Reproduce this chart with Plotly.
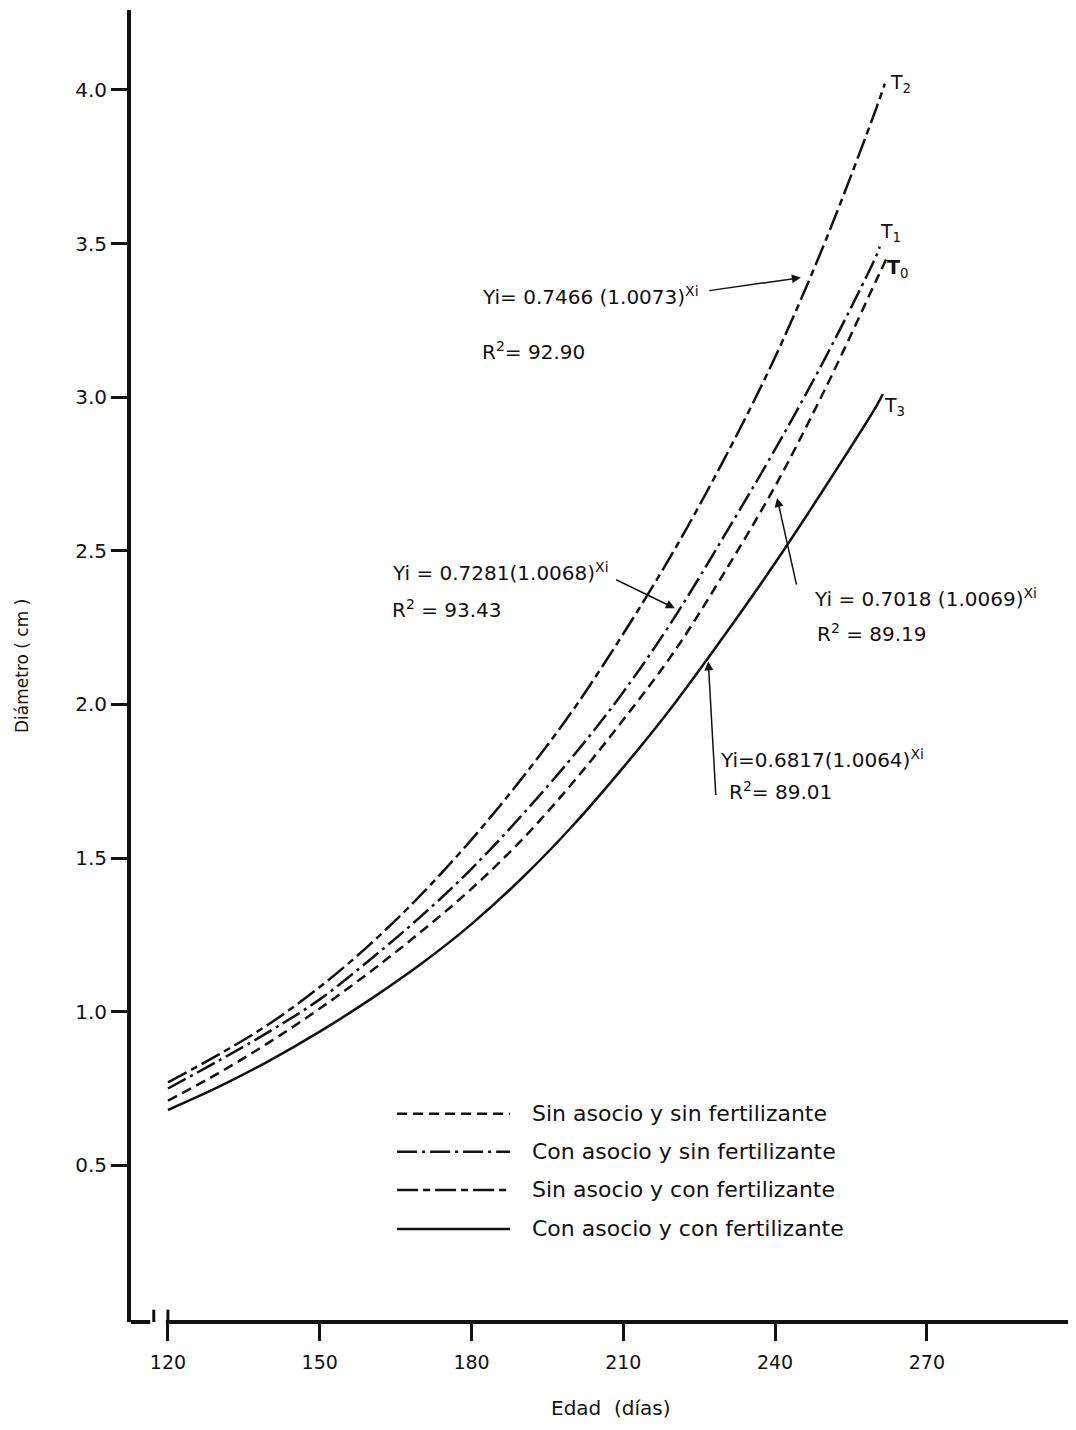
import plotly.graph_objects as go

# ---- data ----
days_T0 = [120, 130, 140, 150, 160, 170, 180, 190, 200, 210, 220, 230, 240, 250, 260, 262]
diam_T0 = [0.71, 0.80, 0.90, 1.01, 1.13, 1.26, 1.40, 1.56, 1.745, 1.95, 2.17, 2.43, 2.71, 3.03, 3.38, 3.45]

days_T1 = [120, 130, 140, 150, 160, 170, 180, 190, 200, 210, 220, 230, 240, 250, 260, 260.7]
diam_T1 = [0.75, 0.84, 0.935, 1.04, 1.17, 1.31, 1.465, 1.64, 1.83, 2.04, 2.28, 2.55, 2.83, 3.13, 3.46, 3.49]

days_T2 = [120, 130, 140, 150, 160, 170, 180, 190, 200, 210, 220, 230, 240, 250, 260, 261.7]
diam_T2 = [0.77, 0.86, 0.96, 1.08, 1.22, 1.38, 1.56, 1.76, 1.98, 2.23, 2.50, 2.80, 3.13, 3.51, 3.94, 4.02]

days_T3 = [120, 130, 140, 150, 160, 170, 180, 190, 200, 210, 220, 230, 240, 250, 260, 261.3]
diam_T3 = [0.68, 0.755, 0.84, 0.935, 1.04, 1.155, 1.285, 1.435, 1.605, 1.795, 2.00, 2.225, 2.46, 2.71, 2.97, 3.01]

legend_labels = ["Sin asocio y sin fertilizante", "Con asocio y sin fertilizante",
                 "Sin asocio y con fertilizante", "Con asocio y con fertilizante"]
x_ticks = [120, 150, 180, 210, 240, 270]
y_ticks = [0.5, 1.0, 1.5, 2.0, 2.5, 3.0, 3.5, 4.0]
y_ticktext = ["0.5", "1.0", "1.5", "2.0", "2.5", "3.0", "3.5", "4.0"]

FONT = "DejaVu Sans"
INK = "#111111"
dash_T0 = "10px,6px"
dash_T1 = "20px,5px,3px,5px"
dash_T2 = "21px,5px,7px,5px"
dash_T3 = "solid"
LW = 2.5

fig = go.Figure()
for xs, ys, d in [(days_T0, diam_T0, dash_T0), (days_T1, diam_T1, dash_T1),
                  (days_T2, diam_T2, dash_T2), (days_T3, diam_T3, dash_T3)]:
    fig.add_trace(go.Scatter(x=xs, y=ys, mode="lines", showlegend=False,
                             line=dict(color=INK, width=LW, dash=d, shape="spline")))

X0, X1 = 112.7, 297.9
fig.update_layout(
    width=1060, height=1414,
    margin=dict(l=123, r=0, t=2, b=100),
    plot_bgcolor="white", paper_bgcolor="white",
    font=dict(family=FONT, color=INK, size=18),
    xaxis=dict(range=[X0, X1], tickvals=x_ticks, ticks="outside", ticklen=18, tickwidth=3,
               tickcolor=INK, showgrid=False, zeroline=False, showline=False,
               ticklabelstandoff=5, tickfont=dict(size=19, family=FONT)),
    yaxis=dict(range=[-0.01, 4.26], tickvals=y_ticks, ticktext=y_ticktext, ticks="outside",
               ticklen=16, tickwidth=3, tickcolor=INK, showgrid=False, zeroline=False,
               showline=True, linewidth=4, linecolor=INK, tickfont=dict(size=20, family=FONT)),
)

# broken axis at the corner
fig.add_shape(type="line", xref="x", yref="paper", x0=X0, x1=116.5, y0=0, y1=0,
              line=dict(color=INK, width=4))
fig.add_shape(type="line", xref="x", yref="y", x0=117.2, x1=117.2, y0=-0.03, y1=0.03,
              line=dict(color=INK, width=3))
fig.add_shape(type="line", xref="x", yref="y", x0=120, x1=120, y0=-0.01, y1=0.03,
              line=dict(color=INK, width=3))
fig.add_shape(type="line", xref="x", yref="paper", x0=119.6, x1=X1, y0=0, y1=0,
              line=dict(color=INK, width=4))

# axis titles
fig.add_annotation(text="Diámetro ( cm )", xref="paper", yref="paper", x=-0.1163, y=0.50,
                   xanchor="center", yanchor="middle",
                   textangle=-90, showarrow=False, font=dict(size=17))
fig.add_annotation(text="Edad  (días)", xref="x", yref="paper", x=207.5, y=-0.0655,
                   xanchor="center", yanchor="middle",
                   showarrow=False, font=dict(size=20))

# legend drawn manually
legend_y = [0.668, 0.544, 0.420, 0.293]
legend_dash = [dash_T0, dash_T1, dash_T2, dash_T3]
for lab, yy, d in zip(legend_labels, legend_y, legend_dash):
    fig.add_shape(type="line", xref="x", yref="y", x0=165.3, x1=187.6, y0=yy, y1=yy,
                  line=dict(color=INK, width=LW, dash=d))
    fig.add_annotation(text=lab, xref="x", yref="y", x=191.5, y=yy, xanchor="left",
                       showarrow=False, font=dict(size=22))

# curve labels
for txt, xx, yy in [("T<sub>2</sub>", 262.3, 4.02), ("T<sub>1</sub>", 260.3, 3.535),
                    ("<b>T</b><sub>0</sub>", 261.7, 3.42), ("T<sub>3</sub>", 261.1, 2.97)]:
    fig.add_annotation(text=txt, x=xx, y=yy, xanchor="left", showarrow=False, font=dict(size=19))

# equations
eqs = [("Yi= 0.7466 (1.0073)<sup>Xi</sup>", 181.7, 3.33), ("R<sup>2</sup>= 92.90", 181.7, 3.15),
       ("Yi = 0.7281(1.0068)<sup>Xi</sup>", 163.9, 2.43), ("R<sup>2</sup> = 93.43", 163.9, 2.31),
       ("Yi = 0.7018 (1.0069)<sup>Xi</sup>", 247.3, 2.345), ("R<sup>2</sup> = 89.19", 247.8, 2.232),
       ("Yi=0.6817(1.0064)<sup>Xi</sup>", 228.7, 1.822), ("R<sup>2</sup>= 89.01", 230.5, 1.718)]
for txt, xx, yy in eqs:
    fig.add_annotation(text=txt, x=xx, y=yy, xanchor="left", showarrow=False, font=dict(size=20))

# arrows
for (tx, ty, hx, hy) in [(226.7, 3.346, 245.1, 3.389), (208.3, 2.408, 220.2, 2.313),
                         (244.3, 2.385, 240.4, 2.672), (228.3, 1.70, 226.8, 2.14)]:
    fig.add_annotation(x=hx, y=hy, ax=tx, ay=ty, axref="x", ayref="y", xref="x", yref="y",
                       text="", showarrow=True, arrowhead=2, arrowsize=1.2, arrowwidth=1.5,
                       arrowcolor=INK)

fig.write_html("out.html")
